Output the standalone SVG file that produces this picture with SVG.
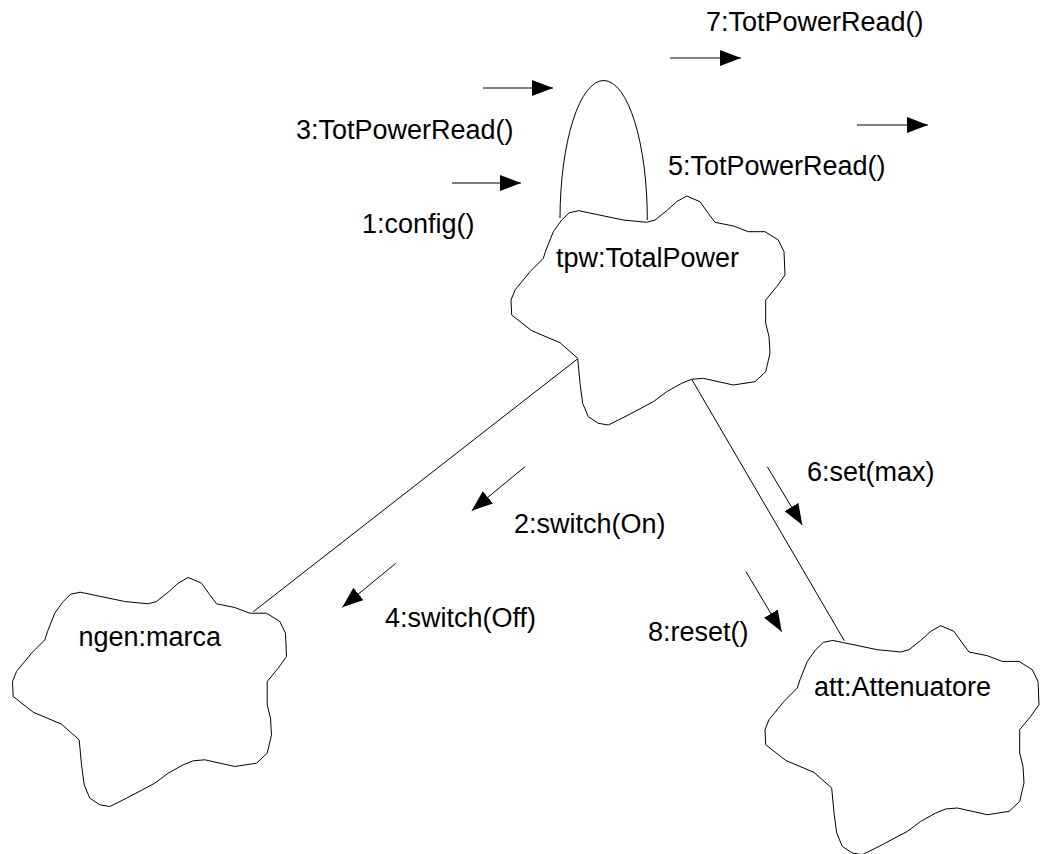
<svg xmlns="http://www.w3.org/2000/svg" xmlns:xlink="http://www.w3.org/1999/xlink" width="1043" height="854" viewBox="0 0 1043 854">
  <style>
    text { font-family: "Liberation Sans", Arial, Helvetica, sans-serif; font-size: 27px; fill: #000; }
    .cloud { fill: #fff; stroke: #000; stroke-width: 1; stroke-linejoin: round; }
    .link { fill: none; stroke: #000; stroke-width: 1; }
    .msg { fill: none; stroke: #000; stroke-width: 1; marker-end: url(#head); }
  </style>
  <defs>
    <!-- filled arrowhead for message arrows -->
    <marker id="head" markerUnits="userSpaceOnUse" markerWidth="21" markerHeight="16" refX="21" refY="8" orient="auto">
      <path d="M0,0 L21,8 L0,16 Z" fill="#000"/>
    </marker>
    <!-- object outline, local origin at leftmost/topmost extent -->
    <path id="cloudShape" class="cloud" d="M58.3,16.7 L67.7,14.7 L77.3,16.7 L112.3,24 L135.7,26.3 L144,24 L155.7,14.7 L165.7,5.7 L175.7,0 L189,5.7 L197.3,17.3 L204,26.3 L222.3,30 L237.3,35.7 L254,35.7 L267.3,44 L273,55.7 L274,79 L265.7,90.7 L254.7,104 L254.7,127.3 L258,140.7 L259,157.3 L254.7,175.7 L244,185.7 L222.3,189 L192.3,182.3 L180.7,183.3 L170.7,187.3 L155.7,195.7 L142.3,205.7 L114,220.7 L97.3,229 L87.3,227.3 L77.3,220.7 L71.7,207.3 L69,187.3 L66.7,162.3 L49,146.7 L20.7,134.7 L0.7,119 L0,104 L4,94 L19,75.7 L32.3,62.3 L35,54 L42.3,35.7 L50.7,24 Z"/>
  </defs>

  <rect width="1043" height="854" fill="#fff"/>

  <g id="connectors">
    <!-- links between objects; the self-link is a half ellipse on top of tpw -->
    <path class="link" d="M560,218 A43.5,138 0 0 1 647.3,220"/>
    <line class="link" x1="577" y1="359.3" x2="253.3" y2="611.7"/>
    <line class="link" x1="691.7" y1="379.3" x2="844.3" y2="640.7"/>
    <!-- message arrows -->
    <line class="msg" x1="452" y1="183" x2="521" y2="183"/>
    <line class="msg" x1="483" y1="88" x2="553" y2="88"/>
    <line class="msg" x1="857" y1="125" x2="928" y2="125"/>
    <line class="msg" x1="670" y1="58" x2="741" y2="58"/>
    <line class="msg" x1="525" y1="466.7" x2="471.7" y2="510.7"/>
    <line class="msg" x1="395.7" y1="563.3" x2="342.3" y2="607.3"/>
    <line class="msg" x1="767.3" y1="466.7" x2="802.3" y2="525"/>
    <line class="msg" x1="746" y1="571.7" x2="781.7" y2="631.7"/>
    <!-- message labels -->
    <text x="362" y="233">1:config()</text>
    <text x="514" y="533">2:switch(On)</text>
    <text x="296" y="139">3:TotPowerRead()</text>
    <text x="385" y="627">4:switch(Off)</text>
    <text x="668" y="175">5:TotPowerRead()</text>
    <text x="807" y="481">6:set(max)</text>
    <text x="706" y="31">7:TotPowerRead()</text>
    <text x="648" y="641">8:reset()</text>
  </g>

  <g id="tpw" transform="translate(511,196)">
    <use xlink:href="#cloudShape"/>
    <text x="45" y="71">tpw:TotalPower</text>
  </g>

  <g id="ngen" transform="translate(12.5,577.5)">
    <use xlink:href="#cloudShape"/>
    <text x="66" y="68">ngen:marca</text>
  </g>

  <g id="att" transform="translate(765,625.7)">
    <use xlink:href="#cloudShape"/>
    <text x="49" y="70">att:Attenuatore</text>
  </g>
</svg>
